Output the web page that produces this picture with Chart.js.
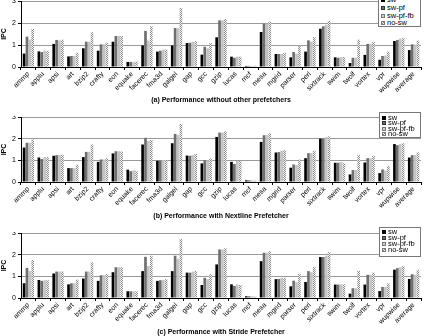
<!DOCTYPE html>
<html><head><meta charset="utf-8">
<script src="https://cdn.jsdelivr.net/npm/chart.js@4/dist/chart.umd.min.js"></script>
<style>
html,body{margin:0;padding:0;background:#fff;overflow:hidden;width:425px;height:336px;position:relative;}
canvas.panel{position:absolute;left:0;}
.legend{position:absolute;background:#fff;border:1px solid #777;font-family:"Liberation Sans",Arial,sans-serif;font-size:7.5px;color:#000;box-sizing:border-box;}
.item{position:absolute;left:2px;white-space:nowrap;line-height:7px;height:7px;}
.sq{display:inline-block;width:4px;height:4px;margin-right:2px;vertical-align:0px;box-sizing:border-box;}
</style>
</head><body>
<canvas id="ca" class="panel" width="425" height="110" style="top:0px"></canvas>
<canvas id="cb" class="panel" width="425" height="110" style="top:116px"></canvas>
<canvas id="cc" class="panel" width="425" height="110" style="top:232px"></canvas>
<script>
const categories = ["ammp","applu","apsi","art","bzip2","crafty","eon","equake","facerec","fma3d","galgel","gap","gcc","gzip","lucas","mcf","mesa","mgrid","parser","perl","sixtrack","swim","twolf","vortex","vpr","wupwise","average"];
const seriesNames = ["sw","sw-pf","sw-pf-fb","no-sw"];
const yTicks = [0,0.5,1,1.5,2,2.5,3];

// (a) without other prefetchers
const swA   = [0.61,0.71,1.05,0.48,0.85,0.74,1.15,0.23,0.98,0.70,0.98,1.09,0.56,1.35,0.47,0.05,1.59,0.59,0.44,0.70,1.74,0.44,0.18,0.55,0.33,1.18,0.77];
const swPfA = [1.38,0.68,1.23,0.50,1.15,1.03,1.41,0.23,1.64,0.74,1.77,1.10,0.92,2.12,0.42,0.05,1.97,0.59,0.68,1.21,1.85,0.42,0.42,1.05,0.50,1.23,1.03];
const swFbA = [1.24,0.74,1.21,0.50,1.15,1.03,1.41,0.23,1.20,0.79,1.76,1.15,0.85,2.12,0.47,0.05,1.97,0.59,0.60,1.15,1.92,0.45,0.42,1.05,0.52,1.29,1.02];
const noSwA = [1.73,0.74,1.24,0.65,1.58,1.10,1.41,0.24,1.85,0.79,2.68,1.18,1.09,2.18,0.47,0.06,2.06,0.64,0.97,1.36,2.09,0.45,1.24,1.15,0.70,1.32,1.20];

// (b) with Nextline prefetcher
const swB   = [1.59,1.13,1.21,0.64,1.15,0.93,1.32,0.57,1.73,0.98,1.79,1.22,0.86,2.08,0.93,0.08,1.85,1.36,0.66,1.10,2.00,0.89,0.35,0.90,0.41,1.75,1.13];
const swPfB = [1.81,1.06,1.24,0.64,1.39,1.04,1.42,0.50,2.04,0.98,2.22,1.21,1.00,2.28,0.83,0.08,2.16,1.38,0.81,1.33,2.00,0.89,0.55,1.10,0.58,1.70,1.24];
const swFbB = [1.81,1.15,1.24,0.64,1.39,1.04,1.42,0.54,1.90,1.01,2.17,1.24,1.00,2.28,0.97,0.08,2.16,1.44,0.78,1.33,2.07,0.92,0.55,1.10,0.54,1.75,1.24];
const noSwB = [1.96,1.15,1.26,0.80,1.73,1.10,1.41,0.50,1.94,1.00,2.68,1.29,1.10,2.34,0.97,0.07,2.25,1.47,1.04,1.44,2.11,0.87,1.24,1.21,0.74,1.79,1.36];

// (c) with Stride prefetcher
const swC   = [0.68,0.83,1.13,0.63,0.90,0.79,1.19,0.31,1.24,0.79,1.24,1.17,0.60,1.55,0.63,0.08,1.70,0.87,0.54,0.74,1.89,0.62,0.20,0.62,0.32,1.31,0.88];
const swPfC = [1.39,0.79,1.22,0.68,1.22,1.05,1.42,0.31,1.90,0.82,1.95,1.17,0.93,2.24,0.56,0.08,2.09,0.88,0.80,1.24,1.89,0.62,0.45,1.07,0.51,1.38,1.10];
const swFbC = [1.25,0.82,1.22,0.68,1.22,1.05,1.42,0.31,1.48,0.83,1.81,1.22,0.87,2.24,0.63,0.08,2.09,0.93,0.73,1.19,1.95,0.63,0.45,1.07,0.51,1.42,1.07];
const noSwC = [1.75,0.82,1.22,0.85,1.65,1.11,1.42,0.31,1.95,0.87,2.72,1.25,1.10,2.29,0.60,0.07,2.16,0.93,1.11,1.44,2.12,0.63,1.25,1.17,0.68,1.47,1.28];

const FONT = '"Liberation Sans", Arial, sans-serif';

function dotPattern(){
  const c = document.createElement('canvas'); c.width = 2; c.height = 2;
  const g = c.getContext('2d');
  g.fillStyle = '#f4f4f4'; g.fillRect(0,0,2,2);
  g.fillStyle = '#8a8a8a'; g.fillRect(0,0,1,1); g.fillRect(1,1,1,1);
  return g.createPattern(c,'repeat');
}
const colors = ['#000000','#6e6e6e','#c4c4c4', null];

function makeChart(id, cfg){
  const H = 110;
  const titleTop = 95.8;
  const xh = titleTop - cfg.plotBottom;
  const pat = dotPattern();
  const vals = [cfg.sw, cfg.pf, cfg.fb, cfg.no];
  return new Chart(document.getElementById(id), {
    type: 'bar',
    data: {
      labels: categories,
      datasets: seriesNames.map((n,i)=>({label:n, data:vals[i], backgroundColor: colors[i] || pat, borderWidth:0}))
    },
    options: {
      responsive:false, animation:false, devicePixelRatio:1,
      layout:{padding:{left:0,right:4,top:1,bottom:H-104.2}},
      datasets:{bar:{categoryPercentage:0.78, barPercentage:0.92}},
      plugins:{
        legend:{display:false}, tooltip:{enabled:false},
        title:{display:true, position:'bottom', fullSize:false, text:cfg.caption, color:'#000',
               font:{family:FONT, size:7, weight:'bold', lineHeight:1.2}, padding:0}
      },
      scales:{
        x:{
          grid:{display:true, drawOnChartArea:false, offset:true, tickLength:3, color:'#000', lineWidth:1},
          border:{display:true, color:'#000'},
          ticks:{autoSkip:false, minRotation:45, maxRotation:45, padding:0, color:'#000', font:{family:FONT, size:7}},
          afterFit(s){ s.height = xh; s.paddingLeft = 0; s.paddingRight = 0; }
        },
        y:{
          min:0, max:3,
          afterBuildTicks(s){ s.ticks = yTicks.map(v=>({value:v})); },
          ticks:{padding:2, color:'#000', font:{family:FONT, size:7}, callback:v=>String(v)},
          grid:{color:'#9a9a9a', tickLength:3, tickColor:'#000', lineWidth:1},
          border:{display:true, color:'#000'},
          title:{display:true, text:'IPC', color:'#000', font:{family:FONT, size:7, weight:'bold'}, padding:0},
          afterFit(s){ s.width = 21; s.paddingTop = 0; s.paddingBottom = 0; }
        }
      }
    }
  });
}

makeChart('ca', {sw:swA, pf:swPfA, fb:swFbA, no:noSwA, plotBottom:67, caption:'(a) Performance without other prefetchers'});
makeChart('cb', {sw:swB, pf:swPfB, fb:swFbB, no:noSwB, plotBottom:66, caption:'(b) Performance with Nextline Prefetcher'});
makeChart('cc', {sw:swC, pf:swPfC, fb:swFbC, no:noSwC, plotBottom:66, caption:'(c) Performance with Stride Prefetcher'});

// Legends (HTML overlays)
const legendBoxes = [
  {left:378, top:-4, width:43, height:31, items:[3.5,11,19,26.5]},
  {left:379, top:112, width:42, height:26, items:[5,10.5,16,21.5]},
  {left:379, top:227, width:42, height:30, items:[4.5,10.5,16.5,22.5]}
];
const swatchStyles = [
  'background:#000;',
  'background:#6e6e6e;border:0.5px solid #333;',
  'background:#d0d0d0;border:0.5px solid #777;',
  'background:repeating-conic-gradient(#8a8a8a 0 25%, #f4f4f4 0 50%) 0 0/2px 2px;border:0.5px solid #777;'
];
legendBoxes.forEach(b=>{
  const d = document.createElement('div');
  d.className = 'legend';
  d.style.cssText = `left:${b.left}px;top:${b.top}px;width:${b.width}px;height:${b.height}px;`;
  seriesNames.forEach((n,i)=>{
    const it = document.createElement('div');
    it.className = 'item';
    it.style.top = (b.items[i]-3.5-1)+'px';
    const sq = document.createElement('span');
    sq.className = 'sq'; sq.style.cssText = swatchStyles[i];
    it.appendChild(sq);
    it.appendChild(document.createTextNode(n));
    d.appendChild(it);
  });
  document.body.appendChild(d);
});
</script>
</body></html>
